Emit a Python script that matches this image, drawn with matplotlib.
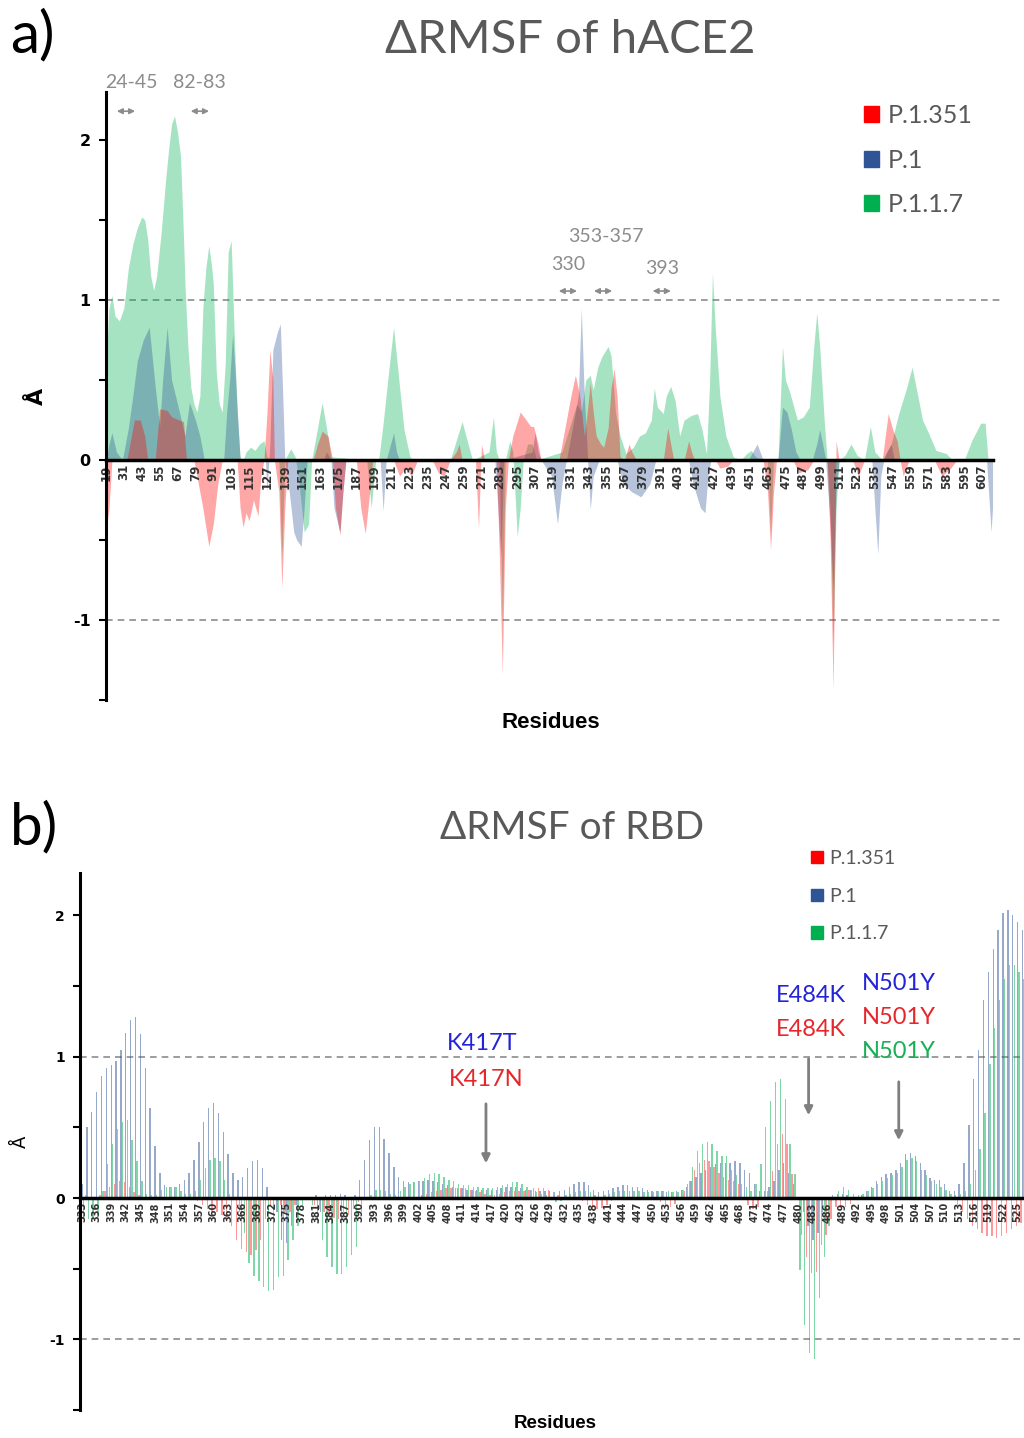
import numpy as np
import matplotlib
matplotlib.use('Agg')
import matplotlib.pyplot as plt
from matplotlib.patches import Patch

# ---------------- panel a: hACE2 (vertices of each area curve) ----------------
a_green_res = [19, 21, 23, 25, 28, 31, 34, 37, 40, 43, 45, 47, 49, 51, 53, 56, 59, 61, 63, 65, 67, 69, 71, 72,
               74, 76, 78, 80, 82, 84, 86, 88, 90, 91, 93, 95, 97, 99, 101, 103, 105, 107, 109, 111, 113, 116,
               119, 122, 125, 127, 130, 135, 137, 139, 143, 146, 148, 152, 155, 157, 158, 161, 164, 167, 170,
               194, 197, 200, 202, 205, 209, 212, 216, 219, 223, 226, 250, 254, 258, 262, 265, 276, 279, 281,
               283, 285, 287, 290, 292, 294, 295, 297, 299, 302, 305, 308, 325, 330, 335, 338, 341, 344, 346,
               349, 352, 356, 358, 361, 364, 368, 373, 377, 381, 385, 387, 389, 393, 395, 398, 401, 404, 407,
               412, 416, 419, 422, 424, 426, 428, 431, 435, 440, 445, 449, 452, 455, 460, 463, 465, 467, 470,
               473, 475, 478, 483, 487, 491, 494, 496, 498, 501, 503, 505, 507, 509, 511, 515, 519, 523, 528,
               532, 535, 540, 546, 551, 556, 560, 563, 567, 571, 576, 583, 587, 595, 600, 606, 609, 611, 614]
a_green_val = [0.6, 0.95, 1.03, 0.9, 0.87, 0.95, 1.2, 1.35, 1.45, 1.52, 1.5, 1.38, 1.15, 1.06, 1.15, 1.42, 1.75,
               1.94, 2.1, 2.15, 2.05, 1.9, 1.4, 1.1, 0.7, 0.45, 0.35, 0.3, 0.4, 0.95, 1.2, 1.34, 1.2, 1.1, 0.55,
               0.35, 0.3, 0.6, 1.3, 1.37, 0.8, 0.3, 0.02, 0.0, 0.05, 0.08, 0.06, 0.1, 0.12, 0.02, 0.0, 0.0, -0.6,
               0.0, 0.07, 0.02, -0.1, -0.45, -0.4, 0.0, 0.05, 0.2, 0.36, 0.2, 0.02, 0.0, -0.3, 0.0, 0.0, 0.23,
               0.58, 0.83, 0.46, 0.19, 0.02, 0.0, 0.0, 0.12, 0.24, 0.1, 0.0, 0.05, 0.27, 0.05, 0.0, -1.0, 0.0,
               0.12, 0.05, -0.3, -0.48, -0.3, 0.0, 0.1, 0.1, 0.0, 0.05, 0.2, 0.35, 0.3, 0.5, 0.53, 0.44, 0.58,
               0.65, 0.71, 0.65, 0.29, 0.15, 0.04, 0.08, 0.15, 0.17, 0.25, 0.45, 0.33, 0.29, 0.4, 0.46, 0.37,
               0.15, 0.25, 0.28, 0.29, 0.19, 0.04, 0.46, 1.17, 0.81, 0.4, 0.15, 0.02, 0.0, 0.04, 0.06, 0.02, 0.0,
               0.0, -0.45, 0.0, 0.0, 0.71, 0.5, 0.42, 0.25, 0.27, 0.33, 0.71, 0.92, 0.71, 0.25, 0.0, -0.3, -1.15,
               -0.3, 0.0, 0.03, 0.1, 0.03, 0.0, 0.21, 0.05, 0.0, 0.1, 0.29, 0.44, 0.58, 0.44, 0.25, 0.17, 0.06,
               0.04, 0.0, 0.0, 0.12, 0.23, 0.23, 0.0, 0.0]

a_blue_res = [19, 21, 23, 26, 30, 34, 37, 40, 44, 48, 52, 55, 57, 60, 63, 67, 72, 75, 79, 82, 85, 98, 100, 102,
              104, 106, 109, 126, 127, 129, 131, 134, 136, 138, 139, 142, 145, 147, 150, 152, 154, 165, 167,
              170, 172, 176, 178, 180, 203, 205, 207, 210, 212, 214, 216, 280, 284, 286, 305, 307, 309, 311,
              318, 322, 325, 328, 332, 336, 338, 340, 342, 344, 346, 350, 362, 366, 372, 378, 384, 388, 410,
              413, 418, 421, 423, 425, 450, 453, 456, 458, 460, 470, 473, 476, 479, 482, 485, 493, 496, 498,
              500, 502, 505, 507, 509, 511, 533, 535, 537, 539, 541, 543, 546, 548, 610, 613, 614]
a_blue_val = [0.0, 0.1, 0.17, 0.05, 0.0, 0.2, 0.4, 0.62, 0.75, 0.83, 0.46, 0.21, 0.5, 0.83, 0.5, 0.35, 0.15,
              0.36, 0.25, 0.15, 0.0, 0.0, 0.3, 0.5, 0.79, 0.5, 0.0, 0.0, -0.2, 0.1, 0.69, 0.8, 0.85, 0.3, 0.0,
              -0.2, -0.45, -0.5, -0.54, -0.3, 0.0, 0.0, 0.05, 0.0, -0.3, -0.45, -0.2, 0.0, 0.0, -0.32, 0.0,
              0.1, 0.17, 0.05, 0.0, 0.0, -0.6, 0.0, 0.05, 0.17, 0.05, 0.0, -0.1, -0.4, -0.15, 0.0, 0.2, 0.4,
              0.95, 0.4, 0.05, -0.31, -0.1, 0.0, 0.0, -0.15, -0.2, -0.23, -0.15, 0.0, 0.0, -0.15, -0.3, -0.33,
              -0.1, 0.0, 0.0, 0.05, 0.1, 0.05, 0.0, 0.0, 0.33, 0.3, 0.19, 0.05, 0.0, 0.0, 0.1, 0.19, 0.1, 0.0,
              -0.4, -0.8, -0.2, 0.0, 0.0, -0.3, -0.59, -0.1, 0.0, 0.05, 0.1, 0.0, 0.0, -0.45, -0.3]

a_red_res = [19, 21, 23, 33, 35, 38, 42, 45, 47, 52, 55, 60, 63, 68, 71, 73, 78, 80, 84, 88, 91, 94, 97, 107,
             109, 111, 113, 115, 118, 121, 123, 125, 127, 129, 131, 132, 135, 137, 139, 141, 158, 161, 164,
             168, 171, 173, 176, 178, 180, 187, 190, 193, 196, 198, 212, 216, 220, 224, 228, 238, 242, 246,
             250, 254, 256, 258, 267, 269, 271, 273, 281, 283, 285, 287, 289, 292, 297, 301, 304, 306, 309,
             311, 323, 325, 328, 331, 334, 337, 340, 342, 344, 346, 348, 351, 353, 356, 358, 360, 362, 364,
             367, 370, 372, 375, 393, 396, 398, 400, 407, 410, 412, 414, 428, 431, 436, 440, 460, 463, 465,
             467, 469, 480, 484, 490, 494, 503, 505, 507, 509, 511, 520, 524, 528, 540, 542, 544, 547, 550,
             552, 554, 558, 575, 580, 586, 590, 614]
a_red_val = [-0.45, -0.3, 0.0, 0.0, 0.1, 0.25, 0.25, 0.15, 0.0, 0.0, 0.32, 0.31, 0.27, 0.25, 0.24, 0.0, 0.0,
             -0.1, -0.3, -0.54, -0.4, -0.15, 0.0, 0.0, -0.3, -0.42, -0.33, -0.38, -0.25, -0.35, -0.1, 0.0,
             0.29, 0.69, 0.5, 0.0, -0.2, -0.8, -0.3, 0.0, 0.0, 0.1, 0.18, 0.15, 0.0, -0.3, -0.47, -0.2, 0.0,
             0.0, -0.3, -0.46, -0.2, 0.0, 0.0, -0.1, -0.05, -0.1, 0.0, 0.0, -0.08, -0.1, 0.0, 0.05, 0.1, 0.0,
             0.0, -0.43, 0.1, 0.0, 0.0, -0.6, -1.34, -0.3, 0.0, 0.15, 0.3, 0.25, 0.21, 0.21, 0.1, 0.0, 0.0, 0.1,
             0.25, 0.4, 0.53, 0.4, 0.15, 0.3, 0.48, 0.3, 0.15, 0.1, 0.08, 0.2, 0.45, 0.57, 0.4, 0.02, 0.0, 0.1,
             0.05, 0.0, 0.0, 0.2, 0.1, 0.0, 0.0, 0.12, 0.05, 0.0, 0.0, -0.05, -0.04, 0.0, 0.0, -0.2, -0.56,
             -0.2, 0.0, 0.0, -0.08, -0.06, 0.0, 0.0, -0.5, -1.44, 0.12, 0.0, 0.0, -0.1, 0.0, 0.0, 0.15, 0.29,
             0.19, 0.12, 0.0, -0.1, 0.0, 0.0, -0.1, -0.05, 0.0, 0.0]

a_ticks = list(range(19, 608, 12))

# ---------------- panel b: RBD (one value per residue 333..527, rows of 10) ----------------
b_res = list(range(333, 528))
b_blue = [0.1, 0.5, 0.61, 0.75, 0.86, 0.92, 0.94, 0.97, 1.05, 1.17,          # 333
          1.26, 1.28, 1.16, 0.92, 0.64, 0.37, 0.18, 0.09, 0.08, 0.08,        # 343
          0.10, 0.13, 0.18, 0.27, 0.40, 0.54, 0.64, 0.67, 0.60, 0.47,        # 353
          0.31, 0.18, 0.13, 0.15, 0.21, 0.26, 0.27, 0.21, 0.08, 0.0,         # 363
          -0.1, -0.3, -0.32, -0.2, -0.05, 0.0, 0.0, 0.0, 0.02, -0.1,         # 373
          0.02, 0.02, 0.02, 0.03, 0.02, 0.0, 0.02, 0.13, 0.27, 0.41,         # 383
          0.50, 0.50, 0.42, 0.32, 0.22, 0.15, 0.12, 0.11, 0.11, 0.12,        # 393
          0.12, 0.13, 0.12, 0.11, 0.1, 0.09, 0.08, 0.07, 0.07, 0.06,         # 403
          0.06, 0.06, 0.06, 0.06, 0.06, 0.06, 0.07, 0.08, 0.08, 0.08,        # 413
          0.07, 0.06, 0.06, 0.05, 0.05, 0.05, 0.05, 0.04, 0.05, 0.06,        # 423
          0.08, 0.1, 0.11, 0.11, 0.09, 0.06, 0.04, 0.05, 0.06, 0.07,         # 433
          0.08, 0.09, 0.09, 0.08, 0.08, 0.07, 0.06, 0.05, 0.05, 0.05,        # 443
          0.04, 0.04, 0.05, 0.06, 0.08, 0.12, 0.15, 0.18, 0.2, 0.22,         # 453
          0.24, 0.25, 0.25, 0.25, 0.26, 0.25, 0.2, 0.18, 0.1, 0.05,          # 463
          0.05, 0.08, 0.12, 0.2, 0.25, 0.18, 0.1, 0.0, -0.1, -0.2,           # 473
          -0.3, -0.25, -0.1, 0.0, 0.02, 0.03, 0.03, 0.02, 0.0, 0.0,          # 483
          0.02, 0.05, 0.08, 0.12, 0.15, 0.17, 0.18, 0.2, 0.25, 0.31,         # 493
          0.32, 0.3, 0.25, 0.2, 0.14, 0.13, 0.13, 0.1, 0.05, 0.05,           # 503
          0.1, 0.25, 0.52, 0.84, 1.05, 1.4, 1.6, 1.76, 1.9, 2.02,            # 513
          2.04, 2.0, 1.95, 1.9, 1.85]                                        # 523
b_green = [-0.15, -0.15, -0.15, -0.12, 0.05, 0.24, 0.38, 0.49, 0.54, 0.55,  # 333
           0.41, 0.26, 0.12, 0.03, 0.02, 0.02, 0.06, 0.08, 0.08, 0.08,      # 343
           0.05, 0.03, 0.03, 0.05, 0.13, 0.21, 0.27, 0.28, 0.26, 0.13,      # 353
           0.03, 0.0, -0.1, -0.25, -0.46, -0.55, -0.59, -0.63, -0.66, -0.65,  # 363
           -0.56, -0.55, -0.44, -0.3, -0.2, -0.05, 0.0, -0.05, -0.18, -0.3,   # 373
           -0.42, -0.49, -0.54, -0.54, -0.49, -0.4, -0.35, -0.1, 0.0, 0.02,   # 383
           0.06, 0.06, 0.05, 0.03, 0.02, 0.05, 0.08, 0.1, 0.11, 0.12,       # 393
           0.14, 0.17, 0.18, 0.17, 0.15, 0.13, 0.12, 0.1, 0.09, 0.09,       # 403
           0.08, 0.08, 0.07, 0.07, 0.07, 0.08, 0.09, 0.1, 0.11, 0.11,       # 413
           0.1, 0.08, 0.06, 0.04, 0.03, 0.02, 0.01, -0.03, -0.02, 0.02,     # 423
           0.03, 0.04, 0.05, 0.05, 0.04, 0.02, 0.01, 0.02, 0.03, 0.04,      # 433
           0.05, 0.05, 0.05, 0.05, 0.05, 0.04, 0.04, 0.04, 0.05, 0.05,      # 443
           0.05, 0.04, 0.04, 0.06, 0.1, 0.22, 0.33, 0.38, 0.4, 0.38,        # 453
           0.33, 0.3, 0.3, 0.2, 0.16, 0.1, 0.08, 0.05, 0.1, 0.24,           # 463
           0.5, 0.69, 0.82, 0.84, 0.7, 0.38, 0.17, -0.51, -0.9, -1.1,       # 473
           -1.14, -0.71, -0.42, -0.2, 0.0, 0.05, 0.08, 0.06, 0.03, 0.02,    # 483
           0.03, 0.05, 0.07, 0.1, 0.12, 0.14, 0.16, 0.18, 0.22, 0.27,       # 493
           0.28, 0.26, 0.2, 0.16, 0.12, 0.1, 0.08, 0.06, 0.03, 0.02,        # 503
           0.03, 0.05, 0.1, 0.2, 0.35, 0.6, 0.95, 1.2, 1.4, 1.55,           # 513
           1.65, 1.65, 1.6, 1.55, 1.5]                                      # 523
b_red = [0.1, 0.02, 0.01, 0.0, 0.02, 0.05, 0.08, 0.1, 0.12, 0.11,           # 333
         0.08, 0.04, 0.02, 0.0, 0.0, 0.0, 0.0, 0.0, 0.0, 0.0,               # 343
         0.0, 0.0, 0.0, 0.0, -0.02, -0.05, -0.08, -0.1, -0.1, -0.12,        # 353
         -0.15, -0.2, -0.3, -0.36, -0.38, -0.4, -0.37, -0.3, -0.15, -0.05,  # 363
         0.0, -0.05, -0.1, -0.1, -0.05, 0.0, 0.0, 0.0, -0.05, -0.08,        # 373
         -0.1, -0.12, -0.14, -0.15, -0.14, -0.12, -0.08, -0.03, 0.0, 0.0,   # 383
         0.0, 0.0, 0.0, 0.0, 0.0, 0.0, 0.0, 0.0, 0.0, 0.01,                 # 393
         0.02, 0.03, 0.04, 0.05, 0.06, 0.07, 0.07, 0.07, 0.07, 0.07,        # 403
         0.06, 0.05, 0.04, 0.03, 0.02, 0.02, 0.03, 0.04, 0.05, 0.05,        # 413
         0.05, 0.05, 0.06, 0.07, 0.07, 0.07, 0.06, 0.04, 0.02, 0.0,         # 423
         0.0, 0.0, 0.0, -0.02, -0.05, -0.08, -0.08, -0.07, -0.05, -0.02,    # 433
         0.0, 0.0, 0.0, 0.0, 0.0, 0.0, 0.0, 0.0, 0.0, -0.03,                # 443
         -0.06, -0.06, -0.04, 0.0, 0.05, 0.12, 0.2, 0.25, 0.27, 0.26,       # 453
         0.22, 0.18, 0.15, 0.13, 0.12, 0.1, 0.0, -0.05, -0.08, -0.06,       # 463
         0.0, 0.05, 0.19, 0.38, 0.45, 0.38, 0.17, 0.0, -0.26, -0.42,        # 473
         -0.53, -0.52, -0.33, -0.26, -0.15, -0.06, -0.06, -0.06, -0.04, 0.0,  # 483
         0.0, 0.0, 0.0, 0.0, 0.0, 0.0, 0.0, 0.0, 0.0, 0.0,                  # 493
         0.0, 0.0, 0.0, 0.0, 0.0, 0.0, 0.0, 0.0, 0.0, 0.0,                  # 503
         -0.05, -0.1, -0.15, -0.2, -0.22, -0.25, -0.27, -0.27, -0.28, -0.27,  # 513
         -0.25, -0.22, -0.2, -0.18, -0.15]                                  # 523
b_ticks = list(range(333, 527, 3))

series_names = ['P.1.351', 'P.1', 'P.1.1.7']
red, blue, green = '#FF0000', '#2F5597', '#00B050'

sans = ['Lato', 'DejaVu Sans']
fig = plt.figure(figsize=(10.24, 14.38), dpi=100)


def style_axis(ax, ysize):
    ax.set_ylim(-1.5, 2.3)
    ax.spines['top'].set_visible(False)
    ax.spines['right'].set_visible(False)
    ax.spines['left'].set_linewidth(2.2)
    ax.spines['bottom'].set_position(('data', 0))
    ax.spines['bottom'].set_linewidth(2.5)
    ax.set_yticks([-1.5, -1, -0.5, 0, 0.5, 1, 1.5, 2])
    ax.set_yticklabels(['', '-1', '', '0', '', '1', '', '2'])
    ax.tick_params(axis='y', length=5, width=1.5, labelsize=ysize, pad=6)
    for t in ax.get_yticklabels():
        t.set_fontweight('bold')
    for v in (1, -1):
        ax.axhline(v, color='#8c8c8c', ls=(0, (4, 3)), lw=1.2, zorder=0)


# ---------------- panel a ----------------
ax1 = fig.add_axes([106 / 1024, 1 - 700 / 1438, 894 / 1024, 608 / 1438])
ax1.fill_between(a_green_res, 0, a_green_val, color=green, alpha=0.35, lw=0)
ax1.fill_between(a_blue_res, 0, a_blue_val, color=blue, alpha=0.35, lw=0)
ax1.fill_between(a_red_res, 0, a_red_val, color=red, alpha=0.35, lw=0)
ax1.set_xlim(19, 619)
style_axis(ax1, 11.5)
ax1.spines['bottom'].set_bounds(19, 614)
ax1.set_xticks(a_ticks)
ax1.set_xticklabels([str(t) for t in a_ticks], rotation=90, fontsize=8.5, fontweight='bold', color='#333333')
ax1.tick_params(axis='x', length=0, pad=3)
ax1.set_xlabel('Residues', fontsize=16, fontweight='bold', family='Liberation Sans')
ax1.xaxis.set_label_coords(0.497, -0.02)
ax1.set_ylabel('Å', fontsize=16, rotation=90, fontweight='bold')
ax1.yaxis.set_label_coords(-0.066, 0.5)

ax1.legend(handles=[Patch(color=c, label=n) for c, n in zip([red, blue, green], series_names)],
           loc='upper left', bbox_to_anchor=(864 / 1024, 1 - 104 / 1438), bbox_transform=fig.transFigure,
           frameon=False, handlelength=0.6, handleheight=0.6, handletextpad=0.35,
           labelspacing=0.86, borderpad=0, borderaxespad=0, labelcolor='#595959', prop={'family': sans, 'size': 18})

gray = '#8c8c8c'
for txt, x, y in [('24-45', 35.8, 2.36), ('82-83', 82, 2.36), ('353-357', 354.6, 1.4),
                  ('330', 329, 1.22), ('393', 392, 1.2)]:
    ax1.text(x, y, txt, ha='center', va='center', fontsize=14, color=gray, family=sans, clip_on=False)
for x, y in [(32.4, 2.18), (82, 2.18), (329, 1.056), (352.6, 1.056), (392, 1.056)]:
    ax1.annotate('', xy=(x - 8, y), xytext=(x + 8, y),
                 arrowprops=dict(arrowstyle='<|-|>', color=gray, lw=1.2, mutation_scale=8), annotation_clip=False)

fig.text(10 / 1024, 1 - 36 / 1438, 'a)', fontsize=42, va='center', ha='left', family=sans)
fig.text(570 / 1024, 1 - 40 / 1438, 'ΔRMSF of hACE2', fontsize=34, va='center', ha='center',
         color='#595959', family=sans)

# ---------------- panel b ----------------
ax2 = fig.add_axes([80 / 1024, 1 - 1410 / 1438, 944 / 1024, 537 / 1438])
x = np.array(b_res)
w = 0.28
ax2.bar(x - 0.3, b_red, width=w, color=red, alpha=0.4, lw=0)
ax2.bar(x, b_blue, width=w, color=blue, alpha=0.5, lw=0)
ax2.bar(x + 0.3, b_green, width=w, color=green, alpha=0.5, lw=0)
ax2.set_xlim(332.6, 526.3)
style_axis(ax2, 10)
ax2.set_xticks(b_ticks)
ax2.set_xticklabels([str(t) for t in b_ticks], rotation=90, fontsize=7, fontweight='bold', color='#333333')
ax2.tick_params(axis='x', length=0, pad=3)
ax2.set_xlabel('Residues', fontsize=13.5, fontweight='bold', family='Liberation Sans')
ax2.xaxis.set_label_coords(475 / 944, -0.01)
ax2.set_ylabel('Å', fontsize=13, rotation=90)
ax2.yaxis.set_label_coords(-0.053, 0.5)

ax2.legend(handles=[Patch(color=c, label=n) for c, n in zip([red, blue, green], series_names)],
           loc='upper left', bbox_to_anchor=(811 / 1024, 1 - 850 / 1438), bbox_transform=fig.transFigure,
           frameon=False, handlelength=0.6, handleheight=0.6, handletextpad=0.35,
           labelspacing=1.06, borderpad=0, borderaxespad=0, labelcolor='#595959', prop={'family': sans, 'size': 14})

mut_blue, mut_red, mut_green = '#2323D8', '#E5262B', '#19AF55'
for txt, xr, yv, c in [('K417T', 415.1, 1.09, mut_blue), ('K417N', 415.9, 0.84, mut_red),
                       ('E484K', 482.5, 1.43, mut_blue), ('E484K', 482.5, 1.196, mut_red),
                       ('N501Y', 500.6, 1.515, mut_blue), ('N501Y', 500.6, 1.274, mut_red),
                       ('N501Y', 500.6, 1.04, mut_green)]:
    ax2.text(xr, yv, txt, ha='center', va='center', fontsize=17, color=c, family=sans)
for xr, y0, y1 in [(415.9, 0.686, 0.226), (482.1, 1.005, 0.566), (500.6, 0.842, 0.389)]:
    ax2.annotate('', xy=(xr, y1), xytext=(xr, y0),
                 arrowprops=dict(arrowstyle='-|>', color='#7f7f7f', lw=2, mutation_scale=12))

fig.text(10 / 1024, 1 - 828 / 1438, 'b)', fontsize=42, va='center', ha='left', family=sans)
fig.text(572 / 1024, 1 - 828 / 1438, 'ΔRMSF of RBD', fontsize=28, va='center', ha='center',
         color='#595959', family=sans)

fig.savefig('out.png', dpi=100)
